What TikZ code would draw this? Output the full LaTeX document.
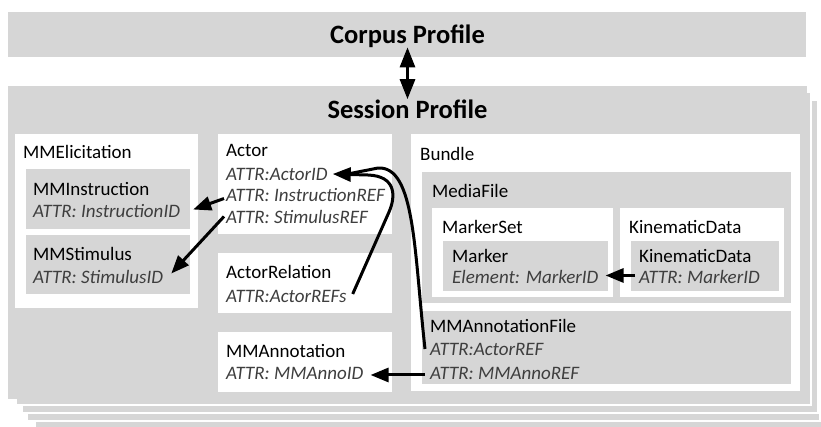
\documentclass[tikz,border=0pt]{standalone}
\usepackage{fontspec}
\setmainfont{Carlito}
\usetikzlibrary{arrows.meta}
\definecolor{boxgray}{RGB}{214,214,214}
\definecolor{attrgray}{RGB}{62,62,62}
\begin{document}
\begin{tikzpicture}[x=1pt,y=-1pt,
  lbl/.style={anchor=base west, inner sep=0pt, font=\fontsize{19}{21}\selectfont, text=black},
  attr/.style={anchor=base west, inner sep=0pt, font=\fontsize{19}{21}\selectfont\itshape, text=attrgray},
  ttl/.style={anchor=base, inner sep=0pt, font=\fontsize{26.5}{30}\selectfont\bfseries, text=black},
  arr/.style={line width=3pt, -{Triangle[length=18pt,width=14pt]}},
  plainline/.style={line width=3pt},
  dblarr/.style={line width=3pt, {Triangle[length=20pt,width=15pt]}-{Triangle[length=20pt,width=15pt]}},
  page/.style={fill=boxgray, draw=white, line width=1.2pt},
  gbox/.style={fill=boxgray},
  wbox/.style={fill=white}]
\useasboundingbox (0,0) rectangle (821,426);
\fill[white] (0,0) rectangle (821,426);
\begin{scope}
\clip (0,0) rectangle (821,426);
% stacked session pages
\path[page] (35,114) rectangle (825,431);
\path[page] (27,108) rectangle (820,421);
\path[page] (22,100) rectangle (818,413);
\path[page] (16,92) rectangle (811,405);
\path[gbox] (8,86) rectangle (807,399);
\end{scope}
% corpus bar
\path[gbox] (8,12) rectangle (806,57);
\node[ttl] (corpus) at (407.5,43) {Corpus Profile};
\node[ttl] (session) at (407.5,118) {Session Profile};

% MMElicitation
\path[wbox] (15,134) rectangle (198,308);
\path[gbox] (26,169) rectangle (190,229);
\path[gbox] (26,235) rectangle (190,294);
\node[lbl] (elic) at (23,158) {MMElicitation};
\node[lbl] (instr) at (33,195) {MMInstruction};
\node[attr] (instid) at (33,217) {ATTR: InstructionID};
\node[lbl] (stim) at (33,260) {MMStimulus};
\node[attr] (stimid) at (33,283) {ATTR: StimulusID};

% Actor
\path[wbox] (218,134) rectangle (392,234);
\node[lbl] (actor) at (226,156) {Actor};
\node[attr] (actorid) at (226,180) {ATTR:ActorID};
\node[attr] (instref) at (226,201) {ATTR: InstructionREF};
\node[attr] (stimref) at (226,223) {ATTR: StimulusREF};

% ActorRelation
\path[wbox] (218,253) rectangle (392,313);
\node[lbl] (actrel) at (226,278) {ActorRelation};
\node[attr] (actorrefs) at (226,302) {ATTR:ActorREFs};

% MMAnnotation
\path[wbox] (218,332) rectangle (392,392);
\node[lbl] (mmanno) at (226,357) {MMAnnotation};
\node[attr] (annoid) at (226,379) {ATTR: MMAnnoID};

% Bundle
\path[wbox] (411,134) rectangle (800,391);
\node[lbl] (bundle) at (420,160) {Bundle};
\path[gbox] (422,172) rectangle (791,303);
\node[lbl] (media) at (432,197) {MediaFile};
\path[wbox] (432,208) rectangle (613,297);
\node[lbl] (markerset) at (442,233) {MarkerSet};
\path[gbox] (443,241) rectangle (608,291);
\node[lbl] (marker) at (452,262) {Marker};
\node[attr] (markerid) at (452,283) {Element: MarkerID};
\path[wbox] (620,208) rectangle (784,297);
\node[lbl] (kinout) at (629,233) {KinematicData};
\path[gbox] (631,241) rectangle (779,291);
\node[lbl] (kinin) at (639,262) {KinematicData};
\node[attr] (kinattr) at (639,283) {ATTR: MarkerID};
\path[gbox] (422,311) rectangle (791,384);
\node[lbl] (annofile) at (430,332) {MMAnnotationFile};
\node[attr] (actorref) at (430,355) {ATTR:ActorREF};
\node[attr] (annoref) at (430,379) {ATTR: MMAnnoREF};

% connectors
\draw[dblarr] (corpus.south) -- (session.north);
\draw[arr] ([xshift=-2pt,yshift=-4pt]instref.west) -- ([xshift=13pt,yshift=1pt]instid.east);
\draw[arr] ([xshift=-2pt]stimref.west) -- ([xshift=8pt,yshift=3pt]stimid.east);
\draw[arr] ([xshift=-5pt,yshift=-2pt]annoref.west) -- ([xshift=7pt,yshift=-2pt]annoid.east);
\draw[arr] ([xshift=-4pt,yshift=1pt]kinattr.west) -- ([xshift=7pt,yshift=1pt]markerid.east);
\draw[plainline] ([xshift=-5pt]actorref.west) .. controls (414,250) and (415,166) .. (378,168) -- ([xshift=20pt]actorid.east);
\draw[arr] ([xshift=6pt,yshift=2pt]actorrefs.east) -- (389,212) .. controls (396,196) and (396,176) .. (368,175) -- ([xshift=5pt]actorid.east);
\end{tikzpicture}
\end{document}
